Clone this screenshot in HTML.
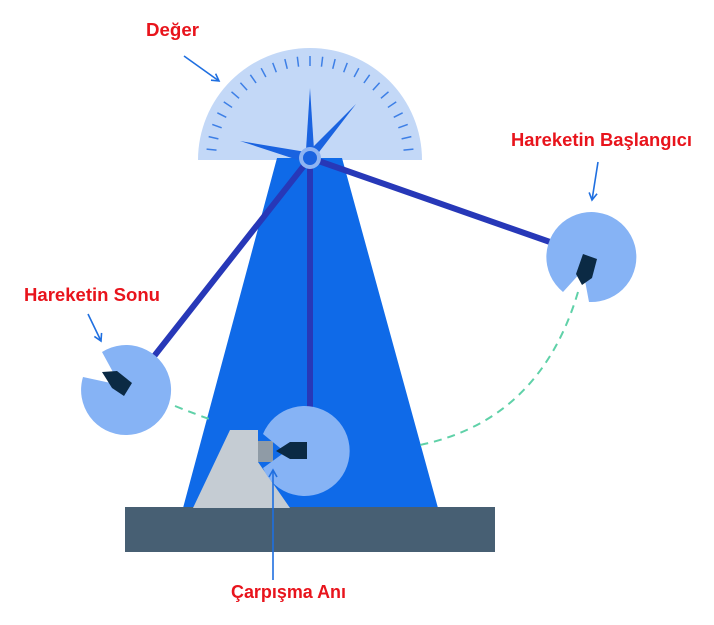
<!DOCTYPE html>
<html><head><meta charset="utf-8"><style>
html,body{margin:0;padding:0;background:#fff;}
svg{display:block;}
text{font-family:"Liberation Sans",sans-serif;font-weight:bold;fill:#e8141c;}
</style></head><body>
<svg width="714" height="625" viewBox="0 0 714 625" xmlns="http://www.w3.org/2000/svg">
<defs>
<marker id="ah" markerWidth="10" markerHeight="10" refX="8" refY="5" orient="auto" markerUnits="userSpaceOnUse">
<path d="M1,1 L8,5 L1,9" fill="none" stroke="#1f6fe0" stroke-width="1.6"/>
</marker>
</defs>
<!-- protractor -->
<path d="M198,160 A112,112 0 0 1 422,160 Z" fill="#c3d8f7"/>
<g stroke="#3d7fe6" stroke-width="1.5">
<line x1="310" y1="56" x2="310" y2="66" transform="rotate(-84 310 160)"/>
<line x1="310" y1="56" x2="310" y2="66" transform="rotate(-77 310 160)"/>
<line x1="310" y1="56" x2="310" y2="66" transform="rotate(-70 310 160)"/>
<line x1="310" y1="56" x2="310" y2="66" transform="rotate(-63 310 160)"/>
<line x1="310" y1="56" x2="310" y2="66" transform="rotate(-56 310 160)"/>
<line x1="310" y1="56" x2="310" y2="66" transform="rotate(-49 310 160)"/>
<line x1="310" y1="56" x2="310" y2="66" transform="rotate(-42 310 160)"/>
<line x1="310" y1="56" x2="310" y2="66" transform="rotate(-35 310 160)"/>
<line x1="310" y1="56" x2="310" y2="66" transform="rotate(-28 310 160)"/>
<line x1="310" y1="56" x2="310" y2="66" transform="rotate(-21 310 160)"/>
<line x1="310" y1="56" x2="310" y2="66" transform="rotate(-14 310 160)"/>
<line x1="310" y1="56" x2="310" y2="66" transform="rotate(-7 310 160)"/>
<line x1="310" y1="56" x2="310" y2="66"/>
<line x1="310" y1="56" x2="310" y2="66" transform="rotate(7 310 160)"/>
<line x1="310" y1="56" x2="310" y2="66" transform="rotate(14 310 160)"/>
<line x1="310" y1="56" x2="310" y2="66" transform="rotate(21 310 160)"/>
<line x1="310" y1="56" x2="310" y2="66" transform="rotate(28 310 160)"/>
<line x1="310" y1="56" x2="310" y2="66" transform="rotate(35 310 160)"/>
<line x1="310" y1="56" x2="310" y2="66" transform="rotate(42 310 160)"/>
<line x1="310" y1="56" x2="310" y2="66" transform="rotate(49 310 160)"/>
<line x1="310" y1="56" x2="310" y2="66" transform="rotate(56 310 160)"/>
<line x1="310" y1="56" x2="310" y2="66" transform="rotate(63 310 160)"/>
<line x1="310" y1="56" x2="310" y2="66" transform="rotate(70 310 160)"/>
<line x1="310" y1="56" x2="310" y2="66" transform="rotate(77 310 160)"/>
<line x1="310" y1="56" x2="310" y2="66" transform="rotate(84 310 160)"/>
</g>
<!-- tower -->
<polygon points="277,158 342,158 438,508 183,508" fill="#0f6ae8"/>
<!-- needles -->
<polygon points="310,88 314,150 306,150" fill="#1a63e0"/>
<polygon points="356,104 316,156 310,150" fill="#1a63e0"/>
<polygon points="240,141 306,152 304,162" fill="#1a63e0"/>
<!-- arms -->
<g stroke="#2738b8" stroke-width="6" stroke-linecap="round">
<line x1="310" y1="158" x2="155" y2="355"/>
<line x1="310" y1="158" x2="550" y2="242"/>
<line x1="310" y1="158" x2="310" y2="410"/>
</g>
<!-- pivot -->
<circle cx="310" cy="158" r="11" fill="#8fb4f2"/>
<circle cx="310" cy="158" r="7" fill="#1a63e0"/>
<!-- dashed paths -->
<path d="M175,406 Q195,414 212,420" fill="none" stroke="#5fd1a8" stroke-width="2" stroke-dasharray="8,6"/>
<path d="M578,292 Q540,420 420,445" fill="none" stroke="#5fd1a8" stroke-width="2" stroke-dasharray="8,6"/>
<!-- base -->
<rect x="125" y="507" width="370" height="45" fill="#475f73"/>
<!-- anvil -->
<polygon points="230,430 258,430 258,462 290,508 193,508" fill="#c5ccd3"/>
<rect x="258" y="441" width="15" height="21" fill="#8f9ba6"/>
<!-- center pendulum -->
<path d="M285,452 L263,468 A45,45 0 1 0 263,434 Z" fill="#86b3f5"/>
<polygon points="307,442 307,459 290,459 276,451 290,442" fill="#0b2a44"/>
<!-- left pendulum -->
<path d="M120,385 L83,377 A45,45 0 1 0 102,352 Z" fill="#86b3f5"/>
<polygon points="102,372 117,371 132,383 124,396 112,388" fill="#0b2a44"/>
<!-- right pendulum -->
<path d="M583,270 L563,292 A45,45 0 1 1 589,302 Z" fill="#86b3f5"/>
<polygon points="583,254 597,259 592,278 582,285 576,274" fill="#0b2a44"/>
<!-- labels -->
<text x="146" y="36" font-size="18" textLength="53" lengthAdjust="spacingAndGlyphs">Değer</text>
<text x="511" y="146" font-size="18" textLength="181" lengthAdjust="spacingAndGlyphs">Hareketin Başlangıcı</text>
<text x="24" y="301" font-size="18" textLength="136" lengthAdjust="spacingAndGlyphs">Hareketin Sonu</text>
<text x="231" y="598" font-size="18" textLength="115" lengthAdjust="spacingAndGlyphs">Çarpışma Anı</text>
<!-- arrows -->
<g stroke="#1f6fe0" stroke-width="1.6" fill="none">
<line x1="184" y1="56" x2="219" y2="81" marker-end="url(#ah)"/>
<line x1="598" y1="162" x2="592" y2="200" marker-end="url(#ah)"/>
<line x1="88" y1="314" x2="101" y2="341" marker-end="url(#ah)"/>
<line x1="273" y1="580" x2="273" y2="470" marker-end="url(#ah)"/>
</g>
</svg>
</body></html>
